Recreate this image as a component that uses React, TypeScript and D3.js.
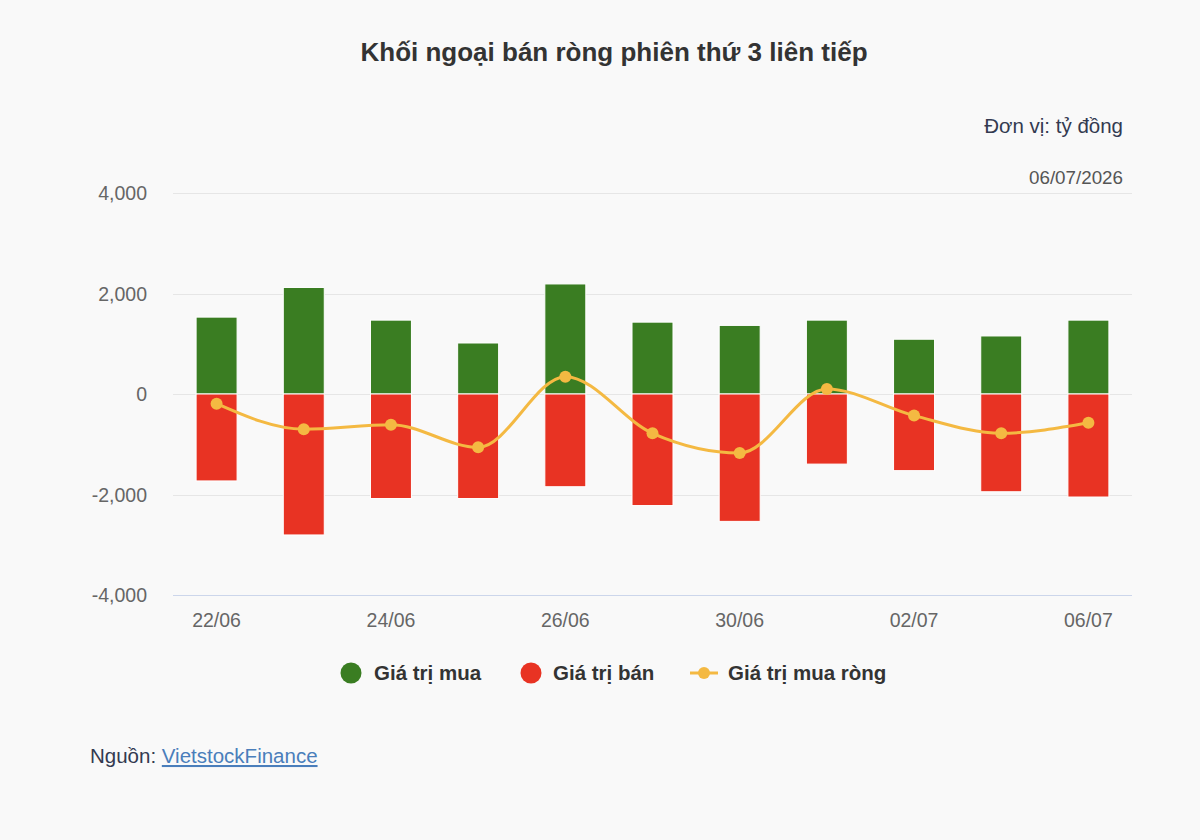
import React, { useEffect, useRef } from 'react';
import * as d3 from 'd3';

const categories = ['22/06', '23/06', '24/06', '25/06', '26/06', '29/06', '30/06', '01/07', '02/07', '03/07', '06/07'];
const buyValues = [1530, 2120, 1470, 1015, 2190, 1430, 1365, 1470, 1090, 1155, 1470];
const sellValues = [-1730, -2805, -2080, -2080, -1845, -2220, -2535, -1395, -1525, -1945, -2050];
const netValues = [-192, -700, -610, -1062, 345, -782, -1174, 100, -430, -780, -574];
const yTicks = [-4000, -2000, 0, 2000, 4000];

const FONT = '"Liberation Sans", Arial, Helvetica, sans-serif';

// highcharts style: plain hyphen for negatives
const fmt = (v: number) => (v < 0 ? '-' : '') + d3.format(',')(Math.abs(v));

const App: React.FC = () => {
  const svgRef = useRef<SVGSVGElement>(null);

  useEffect(() => {
    if (!svgRef.current) return;
    const svg = d3.select(svgRef.current);
    svg.selectAll('*').remove();

    const left = 173, right = 1132, top = 193, bottom = 595;

    svg.append('rect').attr('width', 1200).attr('height', 840).attr('fill', '#f9f9f9');

    const x = d3.scaleBand<string>()
      .domain(categories)
      .range([left, right])
      .paddingInner(0.53)
      .paddingOuter(0.265);

    const y = d3.scaleLinear().domain([-4000, 4000]).range([bottom, top]);

    // title + notes
    svg.append('text')
      .attr('x', 614).attr('y', 61)
      .attr('text-anchor', 'middle')
      .style('font-family', FONT).style('font-size', '26px').style('font-weight', 'bold')
      .attr('fill', '#333333')
      .text('Khối ngoại bán ròng phiên thứ 3 liên tiếp');

    svg.append('text')
      .attr('x', 1123).attr('y', 133)
      .attr('text-anchor', 'end')
      .style('font-family', FONT).style('font-size', '20.5px')
      .attr('fill', '#333a50')
      .text('Đơn vị: tỷ đồng');

    svg.append('text')
      .attr('x', 1123).attr('y', 184)
      .attr('text-anchor', 'end')
      .style('font-family', FONT).style('font-size', '18.8px')
      .attr('fill', '#555555')
      .text('06/07/2026');

    // grid
    svg.append('g').selectAll('line')
      .data(yTicks)
      .enter()
      .append('line')
      .attr('x1', left).attr('x2', right)
      .attr('y1', d => Math.round(y(d)) + 0.5)
      .attr('y2', d => Math.round(y(d)) + 0.5)
      .attr('stroke', d => (d === -4000 ? '#ccd6eb' : '#e6e6e6'))
      .attr('stroke-width', 1);

    // y labels
    svg.append('g').selectAll('text')
      .data(yTicks)
      .enter()
      .append('text')
      .attr('x', 147)
      .attr('y', d => y(d) + 7)
      .attr('text-anchor', 'end')
      .style('font-family', FONT).style('font-size', '19.5px')
      .attr('fill', '#666666')
      .text(d => fmt(d));

    // x labels
    svg.append('g').selectAll('text')
      .data(categories.filter((_, i) => i % 2 === 0))
      .enter()
      .append('text')
      .attr('x', d => (x(d) || 0) + x.bandwidth() / 2)
      .attr('y', 627)
      .attr('text-anchor', 'middle')
      .style('font-family', FONT).style('font-size', '19.5px')
      .attr('fill', '#666666')
      .text(d => d);

    // bars
    svg.append('g').selectAll('rect')
      .data(buyValues)
      .enter()
      .append('rect')
      .attr('x', (_, i) => x(categories[i]) || 0)
      .attr('width', x.bandwidth())
      .attr('y', d => y(d))
      .attr('height', d => y(0) - y(d))
      .attr('fill', '#3a7d22')
      .attr('stroke', '#ffffff')
      .attr('stroke-width', 1);

    svg.append('g').selectAll('rect')
      .data(sellValues)
      .enter()
      .append('rect')
      .attr('x', (_, i) => x(categories[i]) || 0)
      .attr('width', x.bandwidth())
      .attr('y', y(0))
      .attr('height', d => y(d) - y(0))
      .attr('fill', '#e83323')
      .attr('stroke', '#ffffff')
      .attr('stroke-width', 1);

    // net line
    const line = d3.line<number>()
      .x((_, i) => (x(categories[i]) || 0) + x.bandwidth() / 2)
      .y(d => y(d))
      .curve(d3.curveMonotoneX);

    svg.append('path')
      .datum(netValues)
      .attr('d', line)
      .attr('fill', 'none')
      .attr('stroke', '#f4b942')
      .attr('stroke-width', 3);

    svg.append('g').selectAll('circle')
      .data(netValues)
      .enter()
      .append('circle')
      .attr('cx', (_, i) => (x(categories[i]) || 0) + x.bandwidth() / 2)
      .attr('cy', d => y(d))
      .attr('r', 6)
      .attr('fill', '#f4b942');

    // legend
    const legend = svg.append('g').style('font-family', FONT).style('font-size', '20.5px').style('font-weight', 'bold');
    legend.append('circle').attr('cx', 351).attr('cy', 673).attr('r', 10.5).attr('fill', '#3a7d22');
    legend.append('text').attr('x', 374).attr('y', 680).attr('fill', '#333333').text('Giá trị mua');
    legend.append('circle').attr('cx', 531).attr('cy', 673).attr('r', 10.5).attr('fill', '#e83323');
    legend.append('text').attr('x', 553).attr('y', 680).attr('fill', '#333333').text('Giá trị bán');
    legend.append('line').attr('x1', 690).attr('x2', 718).attr('y1', 673).attr('y2', 673)
      .attr('stroke', '#f4b942').attr('stroke-width', 3);
    legend.append('circle').attr('cx', 704).attr('cy', 673).attr('r', 6).attr('fill', '#f4b942');
    legend.append('text').attr('x', 728).attr('y', 680).attr('fill', '#333333').text('Giá trị mua ròng');

    // source
    const src = svg.append('text')
      .attr('x', 90).attr('y', 763)
      .style('font-family', FONT).style('font-size', '20.5px');
    src.append('tspan').attr('fill', '#333a50').text('Nguồn: ');
    src.append('tspan').attr('fill', '#4a7ebb').style('text-decoration', 'underline').text('VietstockFinance');
  }, []);

  return (
    <div style={{ position: 'absolute', left: 0, top: 0 }}>
      <svg ref={svgRef} width={1200} height={840} style={{ display: 'block' }}></svg>
    </div>
  );
};

export default App;
